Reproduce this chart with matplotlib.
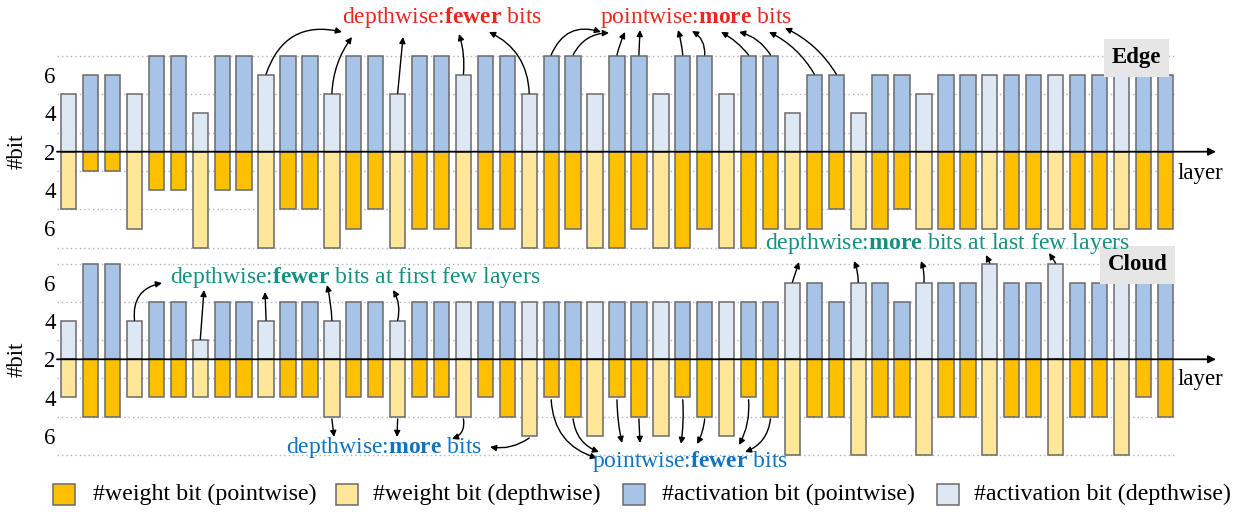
import matplotlib
matplotlib.use('Agg')
import matplotlib.pyplot as plt
from matplotlib.patches import Rectangle

plt.rcParams['font.family'] = ['Liberation Serif', 'DejaVu Serif']
plt.rcParams['mathtext.fontset'] = 'custom'
plt.rcParams['mathtext.rm'] = 'Liberation Serif'
plt.rcParams['mathtext.bf'] = 'Liberation Serif:bold'

# ---------------- data ----------------
layer_type = ['dw', 'pw', 'pw', 'dw', 'pw', 'pw', 'dw', 'pw', 'pw', 'dw', 'pw', 'pw',
              'dw', 'pw', 'pw', 'dw', 'pw', 'pw', 'dw', 'pw', 'pw', 'dw', 'pw', 'pw',
              'dw', 'pw', 'pw', 'dw', 'pw', 'pw', 'dw', 'pw', 'pw', 'dw', 'pw', 'pw',
              'dw', 'pw', 'pw', 'dw', 'pw', 'pw', 'dw', 'pw', 'pw', 'dw', 'pw', 'pw',
              'dw', 'pw', 'pw']
edge_act = [5, 6, 6, 5, 7, 7, 4, 7, 7, 6, 7, 7, 5, 7, 7, 5, 7, 7, 6, 7, 7, 5, 7, 7,
            5, 7, 7, 5, 7, 7, 5, 7, 7, 4, 6, 6, 4, 6, 6, 5, 6, 6, 6, 6, 6, 6, 6, 6,
            6, 6, 6]
edge_wgt = [5, 3, 3, 6, 4, 4, 7, 4, 4, 7, 5, 5, 7, 6, 5, 7, 6, 6, 7, 6, 6, 7, 7, 6,
            7, 7, 6, 7, 7, 6, 7, 7, 6, 6, 6, 5, 6, 6, 5, 6, 6, 6, 6, 6, 6, 6, 6, 6,
            6, 6, 6]
cloud_act = [4, 7, 7, 4, 5, 5, 3, 5, 5, 4, 5, 5, 4, 5, 5, 4, 5, 5, 5, 5, 5, 5, 5, 5,
             5, 5, 5, 5, 5, 5, 5, 5, 5, 6, 6, 5, 6, 6, 5, 6, 6, 6, 7, 6, 6, 7, 6, 6,
             6, 6, 6]
cloud_wgt = [4, 5, 5, 4, 4, 4, 4, 4, 4, 4, 4, 4, 5, 4, 4, 5, 4, 4, 5, 4, 5, 6, 4, 5,
             6, 4, 5, 6, 4, 5, 6, 4, 5, 7, 5, 5, 7, 5, 5, 7, 5, 5, 7, 5, 5, 7, 5, 5,
             7, 4, 5]
panel_names = ['Edge', 'Cloud']
ytick_labels = ['6', '4', '2', '4', '6']
legend_labels = ['#weight bit (pointwise)', '#weight bit (depthwise)',
                 '#activation bit (pointwise)', '#activation bit (depthwise)']

# ---------------- style ----------------
W, H = 1233, 512
C_W_PW, C_W_DW = '#FFC000', '#FFE699'
C_A_PW, C_A_DW = '#A7C4E7', '#DEE8F5'
EDGE = '#6a6a6a'
RED, TEAL, BLUE = '#E8281E', '#14907F', '#1072C0'
BASE = 2


def fx(px):
    return px / W


def fy(py):
    return 1 - py / H


fig = plt.figure(figsize=(W / 100, H / 100), dpi=100)

# axes placement (pixel based)
x_left, x_right = 57, 1177
panels = [
    dict(center=151.7, unit=19.2, act=edge_act, wgt=edge_wgt),
    dict(center=359.3, unit=19.1, act=cloud_act, wgt=cloud_wgt),
]
YL = 5.25
n = len(layer_type)
x_lo, x_hi = -0.534, 50.537
axes = []
for p in panels:
    hpx = 2 * YL * p['unit']
    top = p['center'] - hpx / 2
    ax = fig.add_axes([fx(x_left), 1 - (top + hpx) / H, (x_right - x_left) / W, hpx / H])
    ax.set_xlim(x_lo, x_hi)
    ax.set_ylim(-YL, YL)
    for s in ax.spines.values():
        s.set_visible(False)
    ax.set_xticks([])
    ax.set_yticks([4, 2, 0, -2, -4])
    ax.set_yticklabels(ytick_labels, fontsize=16.5)
    ax.tick_params(axis='y', length=0, pad=1)
    ax.set_yticks([v for v in range(-5, 6) if v != 0], minor=True)
    ax.tick_params(axis='y', which='minor', length=0)
    ax.grid(which='minor', axis='y', color='#b3b3b3', linestyle=(0, (1, 2.2)), lw=1.0)
    ax.set_axisbelow(True)
    for i in range(n):
        dw = layer_type[i] == 'dw'
        ax.bar(i, p['act'][i] - BASE, width=0.7, bottom=0,
               color=C_A_DW if dw else C_A_PW, edgecolor=EDGE, lw=1.1, zorder=2)
        ax.bar(i, -(p['wgt'][i] - BASE), width=0.7, bottom=0,
               color=C_W_DW if dw else C_W_PW, edgecolor=EDGE, lw=1.1, zorder=2)
    ax.annotate('', xy=(1.0348, 0), xycoords=('axes fraction', 'data'),
                xytext=(0, 0), textcoords=('axes fraction', 'data'),
                arrowprops=dict(arrowstyle='-|>', color='black', lw=1.3,
                                mutation_scale=11, shrinkA=0, shrinkB=0),
                annotation_clip=False, zorder=5)
    ax.set_ylabel('#bit', fontsize=16.5)
    ax.yaxis.set_label_coords((28 - x_left) / (x_right - x_left), 0.5)
    axes.append(ax)

# layer labels and panel names
fig.text(fx(1178), fy(174), 'layer', ha='left', va='center', fontsize=16.5)
fig.text(fx(1178), fy(380), 'layer', ha='left', va='center', fontsize=16.5)
box = dict(boxstyle='square,pad=0.35', fc='#e6e6e6', ec='none')
fig.text(fx(1136.5), fy(58), panel_names[0], ha='center', va='center',
         fontsize=16.5, fontweight='bold', bbox=box)
fig.text(fx(1137.5), fy(265), panel_names[1], ha='center', va='center',
         fontsize=16.5, fontweight='bold', bbox=box)

# annotation texts
fig.text(fx(442), fy(17), r'depthwise:$\mathbf{fewer}$ bits', color=RED,
         ha='center', va='center', fontsize=17)
fig.text(fx(696), fy(17), r'pointwise:$\mathbf{more}$ bits', color=RED,
         ha='center', va='center', fontsize=17)
fig.text(fx(355), fy(277), r'depthwise:$\mathbf{fewer}$ bits at first few layers',
         color=TEAL, ha='center', va='center', fontsize=17)
fig.text(fx(384), fy(447), r'depthwise:$\mathbf{more}$ bits', color=BLUE,
         ha='center', va='center', fontsize=17)
fig.text(fx(690), fy(461), r'pointwise:$\mathbf{fewer}$ bits', color=BLUE,
         ha='center', va='center', fontsize=17)
fig.text(fx(948), fy(243), r'depthwise:$\mathbf{more}$ bits at last few layers',
         color=TEAL, ha='center', va='center', fontsize=17.2)

# arrows: (panel, bar index, 'up'/'down', end px x, end px y, rad)
arrows = [
    (0, 9, 'up', 342, 32, -0.45), (0, 12, 'up', 352, 37, -0.15), (0, 15, 'up', 403, 37, 0.0),
    (0, 18, 'up', 459, 34, 0.1), (0, 21, 'up', 489, 32, 0.3),
    (0, 22, 'up', 601, 32, -0.45), (0, 23, 'up', 609, 33, -0.3), (0, 25, 'up', 625, 32, -0.05),
    (0, 26, 'up', 640, 30, 0.0), (0, 28, 'up', 678, 30, 0.05), (0, 29, 'up', 692, 31, 0.3),
    (0, 31, 'up', 721, 32, 0.1), (0, 32, 'up', 739, 32, 0.2), (0, 34, 'up', 769, 32, 0.15),
    (0, 35, 'up', 785, 28, 0.15),
    (1, 3, 'up', 162, 283, -0.45), (1, 6, 'up', 204, 290, 0.0), (1, 9, 'up', 265, 292, 0.0),
    (1, 12, 'up', 327, 285, 0.05), (1, 15, 'up', 393, 290, 0.2),
    (1, 12, 'down', 334, 437, 0.0), (1, 15, 'down', 397, 437, 0.0),
    (1, 18, 'down', 452, 439, -0.4), (1, 21, 'down', 490, 447, -0.2),
    (1, 22, 'down', 597, 458, 0.35), (1, 23, 'down', 599, 452, 0.3),
    (1, 25, 'down', 622, 443, 0.05), (1, 26, 'down', 640, 443, 0.0),
    (1, 28, 'down', 681, 444, -0.05), (1, 29, 'down', 697, 444, -0.1),
    (1, 31, 'down', 739, 445, -0.15), (1, 32, 'down', 745, 452, -0.3),
    (1, 33, 'up', 799, 262, 0.0), (1, 36, 'up', 854, 261, 0.1), (1, 39, 'up', 921, 261, 0.1),
    (1, 42, 'up', 986, 255, 0.0), (1, 45, 'up', 1049, 253, 0.0),
]
for pi, i, d, ex, ey, rad in arrows:
    p = panels[pi]
    if d == 'up':
        y0 = p['act'][i] - BASE + 0.04
    else:
        y0 = -(p['wgt'][i] - BASE) - 0.12
    axes[pi].annotate('', xy=(fx(ex), fy(ey)), xycoords='figure fraction',
                      xytext=(i, y0), textcoords='data',
                      arrowprops=dict(arrowstyle='-|>', color='black', lw=1.0,
                                      mutation_scale=9, shrinkA=0, shrinkB=0,
                                      connectionstyle=f'arc3,rad={rad}'),
                      annotation_clip=False, zorder=6)

# legend
leg_colors = [C_W_PW, C_W_DW, C_A_PW, C_A_DW]
patch_x = [53, 336, 623, 937]
text_x = [93, 373, 662, 974]
for c, px, tx, lab in zip(leg_colors, patch_x, text_x, legend_labels):
    fig.patches.append(Rectangle((fx(px), fy(505)), 22 / W, 21 / H, transform=fig.transFigure,
                                 fc=c, ec=EDGE, lw=1.1))
    fig.text(fx(tx), fy(494.5), lab, ha='left', va='center', fontsize=17.3)

fig.savefig('out.png', dpi=100)
